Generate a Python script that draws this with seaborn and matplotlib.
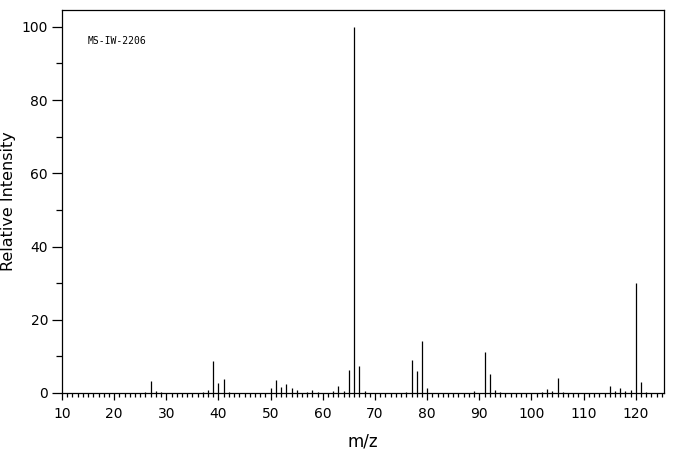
import numpy as np
import pandas as pd
import matplotlib
matplotlib.use("Agg")
import matplotlib.pyplot as plt
import seaborn as sns
from matplotlib.ticker import MultipleLocator

# peaks
mz = [26, 27, 28, 29, 37, 38, 39, 40, 41, 42,
      50, 51, 52, 53, 54, 55, 57, 58, 59, 62, 63, 64, 65, 66, 67, 68,
      76, 77, 78, 79, 80, 89, 91, 92, 93, 94,
      102, 103, 104, 105, 106, 115, 116, 117, 118, 119, 120, 121, 122]
intensity = [0.4, 3.3, 0.6, 0.4, 0.4, 0.9, 8.7, 2.7, 3.8, 0.4,
             1.4, 3.6, 1.6, 2.5, 1.4, 0.7, 0.3, 0.7, 0.3, 0.5, 1.9, 0.5, 6.3, 100.0, 7.5, 0.5,
             0.3, 9.0, 6.0, 14.2, 1.4, 0.5, 11.2, 5.3, 0.8, 0.3,
             0.3, 1.1, 0.6, 4.1, 0.3, 1.9, 0.5, 1.4, 0.5, 0.9, 30.0, 3.0, 0.3]
label = "MS-IW-2206"

df = pd.DataFrame({"mz": mz, "intensity": intensity})

sns.set_style("ticks", {"text.color": "black", "xtick.color": "black",
                        "ytick.color": "black", "axes.labelcolor": "black"})
plt.rcParams["font.family"] = ["DejaVu Sans"]

fig = plt.figure(figsize=(6.76, 4.55), dpi=100)
ax = fig.add_axes([62/676, 62/455, 602/676, 383/455])

ax.vlines(df["mz"], 0, df["intensity"], color="black", linewidth=0.9)

ax.set_xlim(10, 125.4)
ax.set_ylim(0, 104.6)
ax.xaxis.set_major_locator(MultipleLocator(10))
ax.xaxis.set_minor_locator(MultipleLocator(1))
ax.yaxis.set_major_locator(MultipleLocator(20))
ax.yaxis.set_minor_locator(MultipleLocator(10))

for s in ax.spines.values():
    s.set_linewidth(0.9)
    s.set_color("black")
ax.tick_params(axis="x", which="major", length=5, width=0.9, labelsize=10, pad=5)
ax.tick_params(axis="x", which="minor", length=3, width=0.9)
ax.tick_params(axis="y", which="major", length=7, width=0.9, labelsize=10, pad=3)
ax.tick_params(axis="y", which="minor", length=4, width=0.9)

ax.set_xlabel("m/z", fontsize=12, labelpad=8)
ax.set_ylabel("Relative Intensity", fontsize=11.5, labelpad=4)

ax.text(0.042, 0.919, label, transform=ax.transAxes, fontsize=7,
        family="DejaVu Sans Mono", va="center", ha="left")

fig.savefig("out.png", dpi=100)
